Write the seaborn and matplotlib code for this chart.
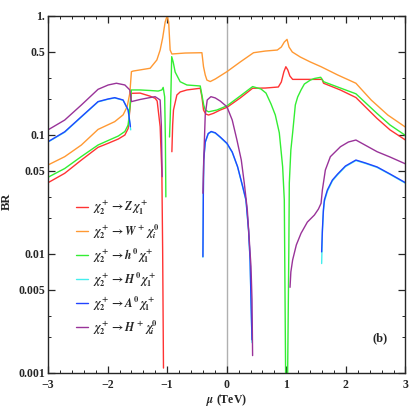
import numpy as np
import pandas as pd
import seaborn as sns
import matplotlib.pyplot as plt
from matplotlib.ticker import NullFormatter

# chargino chi2+ branching ratios vs mu (panel b)
# each channel is split into the segments where the decay is open

red_mu_1 = [-3.0, -2.72, -2.44, -2.16, -1.99, -1.82, -1.71, -1.655, -1.627, -1.60, -1.454, -1.286, -1.202, -1.168, -1.118, -1.089, -1.076, -1.062]
red_br_1 = [0.0396, 0.0475, 0.0614, 0.0785, 0.0849, 0.0922, 0.0996, 0.113, 0.162, 0.223, 0.224, 0.211, 0.2025, 0.192, 0.117, 0.048, 0.0108, 0.0011]
red_mu_2 = [-0.921, -0.908, -0.894, -0.837, -0.782, -0.669, -0.445, -0.417, -0.390, -0.353, -0.306, -0.222, -0.109, 0.003, 0.227, 0.434, 0.647, 0.866, 0.916, 0.958, 0.992, 1.025, 1.059, 1.106, 1.207, 1.60, 1.625, 1.906, 2.168, 2.52, 2.74, 3.0]
red_br_2 = [0.0721, 0.121, 0.1615, 0.216, 0.229, 0.238, 0.246, 0.209, 0.1615, 0.1495, 0.1466, 0.1515, 0.1615, 0.170, 0.204, 0.246, 0.247, 0.252, 0.2775, 0.3367, 0.373, 0.350, 0.312, 0.292, 0.292, 0.292, 0.271, 0.238, 0.2056, 0.1376, 0.110, 0.0904]

orange_mu = [-3.0, -2.72, -2.44, -2.16, -1.88, -1.74, -1.672, -1.627, -1.60, -1.571, -1.286, -1.173, -1.118, -1.076, -1.034, -1.0, -0.975, -0.95, -0.921, -0.697, -0.417, -0.39, -0.361, -0.333, -0.277, -0.193, 0.003, 0.227, 0.45, 0.647, 0.849, 0.916, 0.966, 1.012, 1.045, 1.1, 1.234, 1.402, 1.583, 1.862, 2.168, 2.244, 2.424, 2.703, 3.0]
orange_br = [0.0558, 0.0655, 0.0821, 0.111, 0.129, 0.147, 0.172, 0.223, 0.339, 0.343, 0.362, 0.425, 0.515, 0.650, 0.885, 1.0, 0.885, 0.515, 0.477, 0.486, 0.489, 0.373, 0.318, 0.288, 0.280, 0.294, 0.339, 0.409, 0.489, 0.505, 0.515, 0.546, 0.601, 0.633, 0.546, 0.496, 0.450, 0.409, 0.373, 0.318, 0.271, 0.246, 0.196, 0.1466, 0.116]

green_mu_1 = [-3.0, -2.72, -2.44, -2.16, -1.99, -1.82, -1.71, -1.655, -1.627, -1.60, -1.454, -1.286, -1.151, -1.089, -1.067, -1.042, -1.030, -1.022]
green_br_1 = [0.0440, 0.0521, 0.0657, 0.0821, 0.0896, 0.0977, 0.1066, 0.121, 0.168, 0.238, 0.238, 0.2355, 0.233, 0.238, 0.250, 0.208, 0.0904, 0.0301]
green_mu_2 = [-0.961, -0.950, -0.936, -0.924, -0.899, -0.866, -0.782, -0.669, -0.445, -0.417, -0.387, -0.361, -0.306, -0.165, 0.003, 0.227, 0.434, 0.575, 0.659, 0.743, 0.815, 0.882, 0.938, 0.966, 0.988]
green_br_2 = [0.0958, 0.133, 0.238, 0.453, 0.4086, 0.3367, 0.279, 0.262, 0.257, 0.216, 0.178, 0.1615, 0.156, 0.1615, 0.175, 0.212, 0.254, 0.2424, 0.224, 0.1815, 0.1466, 0.104, 0.054, 0.0284, 0.001]
green_mu_3 = [1.022, 1.042, 1.050, 1.076, 1.106, 1.151, 1.19, 1.247, 1.303, 1.403, 1.471, 1.577, 1.627, 1.908, 2.168, 2.52, 2.74, 3.0]
green_br_3 = [0.001, 0.0108, 0.0394, 0.0745, 0.104, 0.178, 0.2076, 0.238, 0.267, 0.288, 0.297, 0.304, 0.279, 0.247, 0.221, 0.1515, 0.121, 0.0987]

cyan_mu_1 = [-3.0, -2.72, -2.44, -2.16, -1.99, -1.88, -1.74, -1.655, -1.612]
cyan_br_1 = [0.0870, 0.105, 0.141, 0.189, 0.199, 0.204, 0.195, 0.160, 0.110]
cyan_mu_2 = [-0.40, -0.393, -0.387, -0.361, -0.311, -0.261, -0.193, -0.109, 0.003, 0.092, 0.182, 0.261, 0.323, 0.366, 0.392, 0.407, 0.424]
cyan_br_2 = [0.0094, 0.0322, 0.0608, 0.0862, 0.1018, 0.1058, 0.1032, 0.0950, 0.0842, 0.0711, 0.0535, 0.0375, 0.0281, 0.0157, 0.0088, 0.0040, 0.0018]
cyan_mu_3 = [1.593, 1.605, 1.622, 1.639, 1.689, 1.773, 1.862, 1.992, 2.168, 2.328, 2.524, 2.74, 3.0]
cyan_br_3 = [0.0083, 0.0150, 0.0225, 0.0275, 0.0335, 0.0410, 0.0462, 0.0540, 0.0608, 0.0575, 0.0532, 0.0465, 0.0392]

blue_mu_1 = [-3.0, -2.72, -2.44, -2.16, -1.99, -1.88, -1.74, -1.655, -1.617]
blue_br_1 = [0.0875, 0.106, 0.142, 0.190, 0.200, 0.205, 0.196, 0.162, 0.117]
blue_mu_2 = [-0.40, -0.393, -0.387, -0.361, -0.311, -0.261, -0.193, -0.109, 0.003, 0.092, 0.182, 0.261, 0.323, 0.366, 0.392, 0.407, 0.424]
blue_br_2 = [0.00947, 0.0325, 0.0614, 0.087, 0.1026, 0.1066, 0.104, 0.0958, 0.0849, 0.0717, 0.054, 0.0379, 0.0284, 0.0159, 0.0089, 0.0041, 0.0019]
blue_mu_3 = [1.593, 1.605, 1.622, 1.639, 1.689, 1.773, 1.862, 1.992, 2.168, 2.328, 2.524, 2.74, 3.0]
blue_br_3 = [0.0104, 0.0158, 0.0234, 0.0284, 0.0344, 0.0417, 0.0469, 0.0547, 0.0614, 0.058, 0.0537, 0.0469, 0.0396]

purple_mu_1 = [-3.0, -2.72, -2.44, -2.16, -1.99, -1.852, -1.71, -1.627, -1.60, -1.454, -1.286, -1.202, -1.118, -1.098, -1.084]
purple_br_1 = [0.110, 0.133, 0.178, 0.241, 0.262, 0.271, 0.262, 0.238, 0.190, 0.198, 0.2055, 0.209, 0.196, 0.121, 0.0445]
purple_mu_2 = [-0.40, -0.39, -0.378, -0.361, -0.328, -0.266, -0.193, -0.109, 0.003, 0.092, 0.171, 0.244, 0.294, 0.345, 0.378, 0.407, 0.424, 0.434]
purple_br_2 = [0.0323, 0.0506, 0.0821, 0.1466, 0.196, 0.209, 0.204, 0.192, 0.172, 0.133, 0.0904, 0.0614, 0.0394, 0.0234, 0.0131, 0.0078, 0.0041, 0.0014]
purple_mu_3 = [1.062, 1.076, 1.106, 1.168, 1.247, 1.353, 1.471, 1.539, 1.583, 1.605, 1.655, 1.739, 1.908, 2.042, 2.168, 2.524, 2.74, 3.0]
purple_br_3 = [0.00524, 0.00705, 0.0089, 0.0119, 0.0149, 0.0185, 0.0212, 0.0238, 0.0266, 0.0344, 0.0506, 0.0655, 0.0794, 0.087, 0.0904, 0.0721, 0.0651, 0.057]

labels = [
    r'$\chi_2^+ \rightarrow Z\,\chi_1^+$',
    r'$\chi_2^+ \rightarrow W^+\,\chi_i^0$',
    r'$\chi_2^+ \rightarrow h^0\,\chi_1^+$',
    r'$\chi_2^+ \rightarrow H^0\,\chi_1^+$',
    r'$\chi_2^+ \rightarrow A^0\,\chi_1^+$',
    r'$\chi_2^+ \rightarrow H^+\,\chi_i^0$',
]
colors = ['#ff3333', '#ff9933', '#33ee33', '#44eeee', '#2244ff', '#993399']

segments = [
    (0, red_mu_1, red_br_1), (0, red_mu_2, red_br_2),
    (1, orange_mu, orange_br),
    (2, green_mu_1, green_br_1), (2, green_mu_2, green_br_2), (2, green_mu_3, green_br_3),
    (3, cyan_mu_1, cyan_br_1), (3, cyan_mu_2, cyan_br_2), (3, cyan_mu_3, cyan_br_3),
    (4, blue_mu_1, blue_br_1), (4, blue_mu_2, blue_br_2), (4, blue_mu_3, blue_br_3),
    (5, purple_mu_1, purple_br_1), (5, purple_mu_2, purple_br_2), (5, purple_mu_3, purple_br_3),
]

frames = []
for k, (ch, mu, br) in enumerate(segments):
    frames.append(pd.DataFrame({'mu': mu, 'br': br, 'channel': labels[ch], 'seg': k}))
df = pd.concat(frames, ignore_index=True)

sns.set_style('ticks')
plt.rcParams['font.family'] = ['Liberation Serif', 'DejaVu Serif']
plt.rcParams['font.weight'] = 'bold'
plt.rcParams['mathtext.fontset'] = 'stix'

fig = plt.figure(figsize=(4.09, 4.08), dpi=100)
ax = fig.add_axes([0.1174, 0.0858, 0.874, 0.8757])

ax.axvline(0, color='#b0b0b0', lw=1.0, zorder=0)
sns.lineplot(data=df, x='mu', y='br', hue='channel', hue_order=labels, palette=colors,
             units='seg', estimator=None, sort=False, linewidth=1.0, ax=ax)

ax.set_yscale('log')
ax.set_xlim(-3, 3)
ax.set_ylim(0.001, 1.0)

ax.set_xticks([-3, -2, -1, 0, 1, 2, 3])
ax.set_xticklabels(['\u22123', '\u22122', '\u22121', '0', '1', '2', '3'])
ax.set_xticks(np.arange(-3, 3.01, 0.2), minor=True)
ax.set_yticks([0.001, 0.005, 0.01, 0.05, 0.1, 0.5, 1.0])
ax.set_yticklabels(['0.001', '0.005', '0.01', '0.05', '0.1', '0.5', '1.'])
ax.set_yticks([0.002, 0.003, 0.02, 0.03, 0.2, 0.3], minor=True)
ax.yaxis.set_minor_formatter(NullFormatter())
ax.tick_params(which='both', direction='in', top=True, right=True, labelsize=8.5)
ax.tick_params(axis='x', which='major', pad=4)
ax.tick_params(axis='y', which='major', pad=2)
ax.tick_params(which='major', length=5, width=0.9)
ax.tick_params(which='minor', length=2.5, width=0.7)
for s in ax.spines.values():
    s.set_linewidth(1.0)

ax.set_xlabel(r'$\boldsymbol{\mu}$ (TeV)', fontsize=8.5, fontweight='bold')
ax.set_ylabel('BR', fontsize=9, fontweight='bold')
ax.xaxis.set_label_coords(0.5, -0.052)
ax.yaxis.set_label_coords(-0.098, 0.48)
ax.text(0.93, 0.098, '(b)', transform=ax.transAxes, ha='center', va='center',
        fontsize=9, fontweight='bold')

sns.move_legend(ax, 'upper left', bbox_to_anchor=(0.065, 0.50), title=None, frameon=False,
                fontsize=8.5, handlelength=1.0, handletextpad=0.4, labelspacing=0.45,
                borderaxespad=0)

fig.savefig('out.png', dpi=100)
